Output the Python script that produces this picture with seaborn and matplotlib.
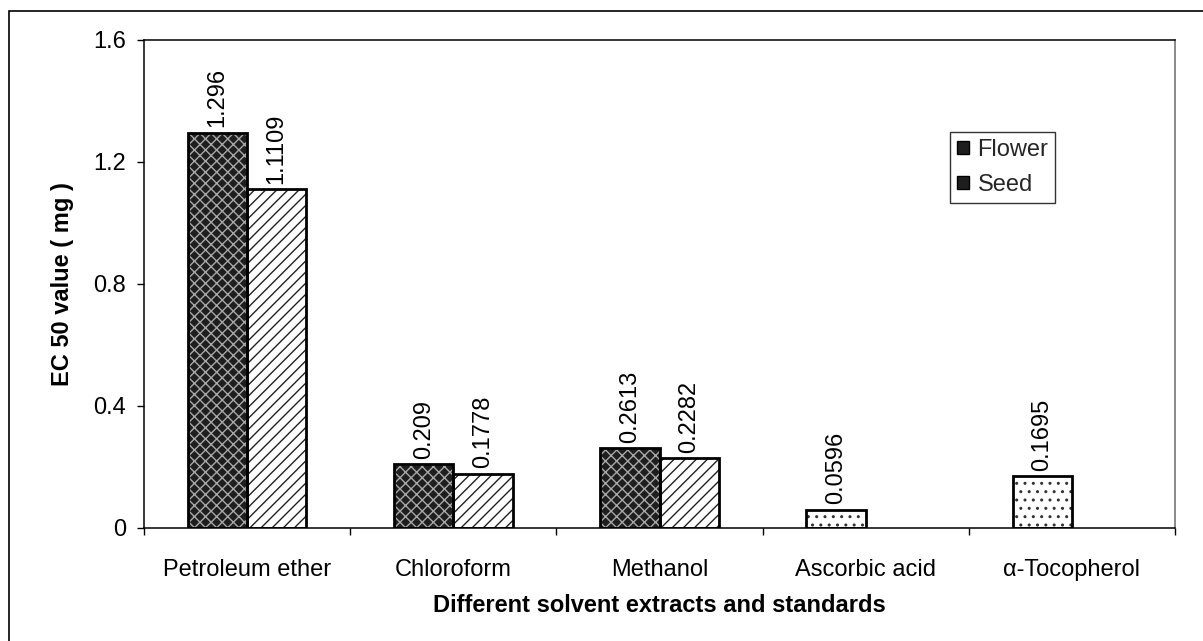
import matplotlib
matplotlib.use("Agg")
import matplotlib.pyplot as plt
import pandas as pd
import seaborn as sns
from matplotlib.patches import Patch, Rectangle
from matplotlib.ticker import FixedLocator, NullFormatter

# EC50 values for each extract / standard
categories = ["Petroleum ether", "Chloroform", "Methanol", "Ascorbic acid", "α-Tocopherol"]
series = ["Flower", "Seed"]
flower = [1.296, 0.209, 0.2613, 0.0596, 0.1695]
seed = [1.1109, 0.1778, 0.2282, None, None]
standards = ["Ascorbic acid", "α-Tocopherol"]
y_ticks = [0, 0.4, 0.8, 1.2, 1.6]
y_tick_labels = ["0", "0.4", "0.8", "1.2", "1.6"]

sns.set_theme(style="white")
plt.rcParams["font.family"] = ["Liberation Sans", "DejaVu Sans"]
plt.rcParams["hatch.linewidth"] = 1.0

rows = []
for cat, f, s in zip(categories, flower, seed):
    rows.append((cat, "Flower", f))
    if s is not None:
        rows.append((cat, "Seed", s))
df = pd.DataFrame(rows, columns=["category", "part", "value"])

FS = 17
W, H = 1203, 641
fig = plt.figure(figsize=(W / 100, H / 100), dpi=100)
ax = fig.add_axes([144 / W, 1 - 528 / H, 1031 / W, 488 / H])

# filled, patterned bars
sns.barplot(data=df, x="category", y="value", hue="part", order=categories,
            hue_order=series, width=0.575, errorbar=None, saturation=1,
            linewidth=0, legend=False, ax=ax)
fill_containers = list(ax.containers)

for cont, part in zip(fill_containers, series):
    for bar in cont:
        idx = int(round(bar.get_x() + bar.get_width() / 2))
        cat = categories[idx]
        bar.set_linewidth(0)
        if cat in standards:
            bar.set_facecolor("white")
            bar.set_hatch("..")
            bar.set_edgecolor("#333333")
        elif part == "Flower":
            bar.set_facecolor("#1e1e1e")
            bar.set_hatch("xxx")
            bar.set_edgecolor("#a8a8a8")
        else:
            bar.set_facecolor("white")
            bar.set_hatch("///")
            bar.set_edgecolor("#222222")

# black outlines on top of the patterned fills
sns.barplot(data=df, x="category", y="value", hue="part", order=categories,
            hue_order=series, width=0.575, errorbar=None, fill=False,
            palette=["black", "black"], linewidth=2.0, legend=False, ax=ax)
outline_containers = ax.containers[len(fill_containers):]

for cont in outline_containers:
    ax.bar_label(cont, labels=[f"{v:g}" for v in cont.datavalues],
                 rotation=90, padding=4, fontsize=FS, color="black")

# axes limits and ticks
ax.set_xlim(-0.5, len(categories) - 0.5)
ax.set_ylim(0, 1.6)
ax.set_yticks(y_ticks)
ax.set_yticklabels(y_tick_labels, fontsize=FS)
ax.set_xticks(range(len(categories)))
ax.set_xticklabels(categories, fontsize=FS)
ax.xaxis.set_minor_locator(FixedLocator([i - 0.5 for i in range(len(categories) + 1)]))
ax.xaxis.set_minor_formatter(NullFormatter())
ax.tick_params(axis="x", which="major", length=0, pad=22, colors="black")
ax.tick_params(axis="x", which="minor", length=5, width=1, color="black", bottom=True)
ax.tick_params(axis="y", which="major", length=5, width=1, pad=8, left=True,
               color="black", labelcolor="black")

for side in ["left", "bottom", "top"]:
    ax.spines[side].set_color("black")
    ax.spines[side].set_linewidth(1.1)
ax.spines["right"].set_color("#808080")
ax.spines["right"].set_linewidth(1.3)

ax.set_xlabel("Different solvent extracts and standards", fontsize=FS,
              fontweight="bold", color="black")
ax.set_ylabel("EC 50 value ( mg )", fontsize=FS, fontweight="bold", color="black")
ax.xaxis.set_label_coords(0.5, -0.135)
ax.yaxis.set_label_coords(-0.068, 0.5)

# legend
handles = [Patch(facecolor="#1e1e1e", edgecolor="black", linewidth=1.0),
           Patch(facecolor="#1e1e1e", edgecolor="black", linewidth=1.0)]
leg = ax.legend(handles, series, loc="upper left", bbox_to_anchor=(0.782, 0.812),
                fontsize=FS, frameon=True, fancybox=False, shadow=False,
                handlelength=0.5, handleheight=0.5, handletextpad=0.35,
                labelspacing=0.55, borderpad=0.3, borderaxespad=0)
leg.get_frame().set_edgecolor("black")
leg.get_frame().set_linewidth(1.0)

# chart border
fig.add_artist(Rectangle((9 / W, -0.5), 1.5, 0.5 + (1 - 11 / H), fill=False,
                         edgecolor="black", linewidth=1.2,
                         transform=fig.transFigure))

fig.savefig("out.png", dpi=100, facecolor="white")
